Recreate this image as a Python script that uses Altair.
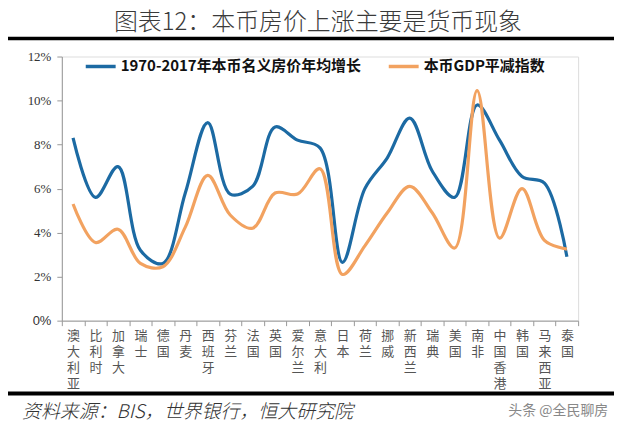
import altair as alt
import pandas as pd

countries = ["澳大利亚", "比利时", "加拿大", "瑞士", "德国", "丹麦", "西班牙", "芬兰", "法国",
             "英国", "爱尔兰", "意大利", "日本", "荷兰", "挪威", "新西兰", "瑞典", "美国",
             "南非", "中国香港", "韩国", "马来西亚", "泰国"]
house_growth = [8.3, 5.6, 7.0, 3.2, 2.6, 5.8, 9.0, 5.75, 6.1, 8.8, 8.2, 7.85, 2.65, 6.0, 7.4,
                9.2, 6.8, 5.6, 9.8, 8.2, 6.55, 6.25, 2.9]
gdp_deflator = [5.3, 3.55, 4.15, 2.6, 2.45, 4.25, 6.6, 4.8, 4.2, 5.8, 5.75, 6.9, 2.1, 3.4, 4.9,
                6.1, 4.9, 3.3, 10.45, 3.75, 6.0, 3.65, 3.25]
series_names = ["1970-2017年本币名义房价年均增长", "本币GDP平减指数"]
colors = ["#1C6AA3", "#F2A260"]
y_ticks = [0, 0.02, 0.04, 0.06, 0.08, 0.10, 0.12]
title_text = "图表12：本币房价上涨主要是货币现象"
source_text = "资料来源：BIS，世界银行，恒大研究院"
watermark_text = "头条 @全民聊房"

rows = []
for i, c in enumerate(countries):
    rows.append({"country": c, "series": series_names[0], "value": house_growth[i] / 100, "order": i})
    rows.append({"country": c, "series": series_names[1], "value": gdp_deflator[i] / 100, "order": i})
df = pd.DataFrame(rows)

lines = alt.Chart(df).mark_line(interpolate="catmull-rom", strokeWidth=3.2).encode(
    x=alt.X("country:N", sort=countries, title=None,
            scale=alt.Scale(paddingInner=0, paddingOuter=0),
            axis=alt.Axis(labelAngle=0, labelExpr="split(datum.label, '')",
                          labelFont="Noto Sans CJK SC", labelFontSize=13, labelColor="#555",
                          labelLineHeight=16, labelBaseline="top", labelPadding=4,
                          tickBand="extent", tickSize=5, tickColor="#999",
                          domainColor="#999", grid=False)),
    y=alt.Y("value:Q", title=None,
            scale=alt.Scale(domain=[0, 0.12], nice=False),
            axis=alt.Axis(values=y_ticks, format=".0%",
                          labelFont={"condition": {"test": "datum.value == 0", "value": "Liberation Sans"},
                                     "value": "Liberation Serif"},
                          labelFontSize=13, labelColor="#333", labelPadding=6,
                          tickSize=5, tickColor="#999", domainColor="#999", grid=False)),
    color=alt.Color("series:N", sort=series_names,
                    scale=alt.Scale(domain=series_names, range=colors),
                    legend=alt.Legend(title=None, orient="none", direction="horizontal",
                                      legendX=22, legendY=-7, symbolType="stroke",
                                      symbolSize=900, symbolStrokeWidth=3.5,
                                      labelFont="Noto Sans CJK SC", labelFontSize=15,
                                      labelFontWeight="bold", labelColor="#111",
                                      labelOffset=3, columnPadding=20, labelLimit=400)),
    order="order:Q",
)

one = pd.DataFrame({"a": [0]})

title = alt.Chart(pd.DataFrame({"t": [title_text]})).mark_text(
    font="Noto Sans CJK SC", fontSize=24, fontWeight=300, color="#3a3a3a",
    align="center", baseline="middle"
).encode(text="t:N", x=alt.value(257), y=alt.value(-34))

top_rule = alt.Chart(one).mark_rule(color="#000", strokeWidth=3.5).encode(
    x=alt.value(-54), x2=alt.value(554), y=alt.value(-18))
bottom_rule = alt.Chart(one).mark_rule(color="#000", strokeWidth=4).encode(
    x=alt.value(-54), x2=alt.value(554), y=alt.value(338))

source = alt.Chart(pd.DataFrame({"t": [source_text]})).mark_text(
    font="Noto Sans CJK SC", fontSize=19, fontStyle="italic", fontWeight=300, color="#333",
    align="left", baseline="middle"
).encode(text="t:N", x=alt.value(-40), y=alt.value(357))

watermark = alt.Chart(pd.DataFrame({"t": [watermark_text]})).mark_text(
    font="Noto Sans CJK SC", fontSize=14, color="#888", align="left", baseline="middle"
).encode(text="t:N", x=alt.value(448), y=alt.value(356))

chart = alt.layer(lines, title, top_rule, bottom_rule, source, watermark).properties(
    width=518, height=265,
    autosize=alt.AutoSizeParams(type="none"),
    padding={"left": 54, "top": 48, "right": 38, "bottom": 104},
).configure_view(stroke=None).configure(background="white")

chart.save("out.html", embed_options={"renderer": "svg", "actions": False})
